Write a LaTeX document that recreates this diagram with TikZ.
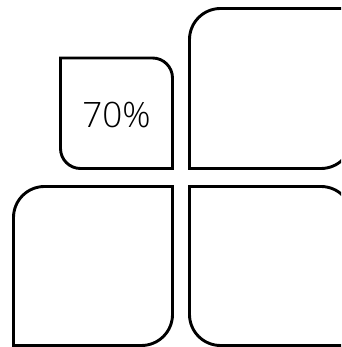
\documentclass[tikz,border=0pt]{standalone}
\usepackage{fontspec}
\setmainfont{Open Sans}
\newfontfamily\lightfont{Open Sans Light}
\begin{document}
\begin{tikzpicture}[x=1pt,y=1pt,
  tile/.style={draw=black,line width=2.9pt,line join=miter},
  label/.style={font=\lightfont\fontsize{35}{42}\selectfont,text=black,inner sep=0pt}]
\useasboundingbox (0,0) rectangle (341,347);
\clip (0,0) rectangle (341,347);
% small box
\draw[tile] (60.5,289) -- (152.5,289) arc[start angle=90,end angle=0,radius=20]
  -- (172.5,178.5) -- (80.5,178.5) arc[start angle=270,end angle=180,radius=20] -- cycle;
% top-right box
\draw[tile] (189.5,178.5) -- (189.5,307.5) arc[start angle=180,end angle=90,radius=31]
  -- (352,338.5) -- (352,209.5) arc[start angle=0,end angle=-90,radius=31] -- cycle;
% bottom-left box
\draw[tile] (13.5,1.5) -- (13.5,129.5) arc[start angle=180,end angle=90,radius=31]
  -- (172.5,160.5) -- (172.5,32.5) arc[start angle=0,end angle=-90,radius=31] -- cycle;
% bottom-right box
\draw[tile] (189.5,160.5) -- (321,160.5) arc[start angle=90,end angle=0,radius=31]
  -- (352,1.5) -- (220.5,1.5) arc[start angle=270,end angle=180,radius=31] -- cycle;
\node[label] (pct) at (116.5,231.5) {70\%};
\end{tikzpicture}
\end{document}
